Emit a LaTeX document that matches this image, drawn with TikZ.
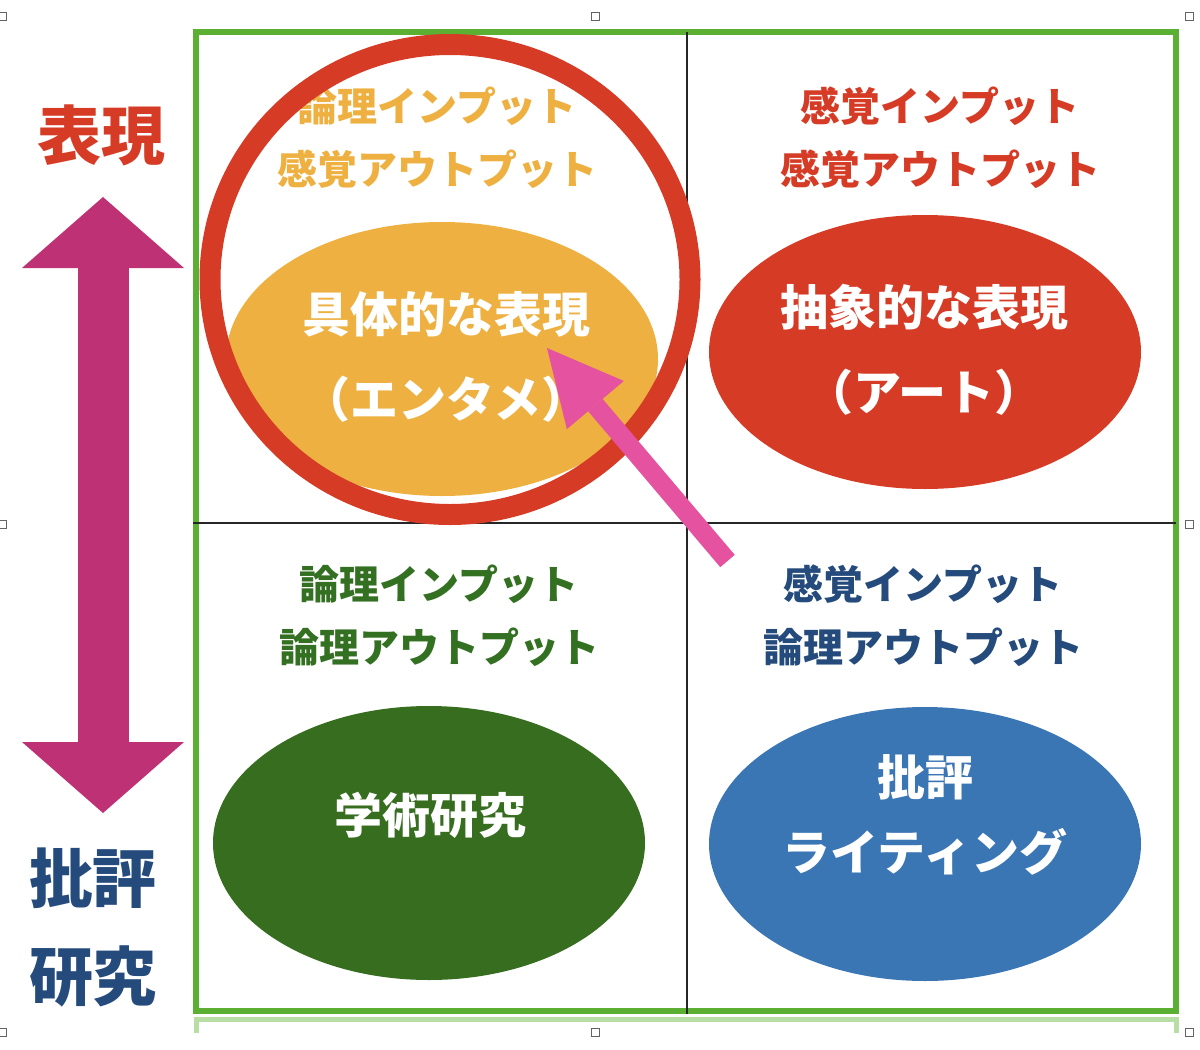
\documentclass[tikz,border=0pt]{standalone}
\usepackage{fontspec}
\newfontfamily\jpfont{Noto Sans CJK JP}
\usepackage{tikz}
\usetikzlibrary{arrows.meta}
\usetikzlibrary{shapes.geometric}
\definecolor{framegreen}{RGB}{91,175,50}
\definecolor{bracketgreen}{RGB}{185,222,165}
\definecolor{ringred}{RGB}{214,59,38}
\definecolor{entorange}{RGB}{238,176,64}
\definecolor{artred}{RGB}{214,59,38}
\definecolor{acadgreen}{RGB}{54,109,31}
\definecolor{labelgreen}{RGB}{52,112,34}
\definecolor{critblue}{RGB}{58,117,180}
\definecolor{navy}{RGB}{36,75,124}
\definecolor{axismagenta}{RGB}{190,50,117}
\definecolor{pointpink}{RGB}{228,82,160}
\definecolor{handlegray}{RGB}{100,100,100}
\tikzset{
    quadlabel/.style={
        font=\jpfont\bfseries\fontsize{20}{31.5}\selectfont,
        align=center,
        inner sep=0pt
    },
    bubble/.style={
        ellipse,
        minimum width=216pt,
        minimum height=137pt,
        inner sep=0pt
    },
    bubbletext/.style={
        font=\jpfont\bfseries\fontsize{24}{42.5}\selectfont,
        align=center,
        white,
        inner sep=0pt
    },
    sidelabel/.style={
        font=\jpfont\bfseries\fontsize{32}{49}\selectfont,
        align=center,
        inner sep=0pt
    },
    % 縦の両矢印と指し示す矢印
    axisarrow/.style={
        line width=25.5pt,
        axismagenta,
        <->,
        >={Triangle[length=35.5pt, width=81pt, line width=0pt]}
    },
    pointarrow/.style={
        line width=9.5pt,
        pointpink,
        ->,
        >={Triangle[length=37.4pt, width=37.3pt, line width=0pt]}
    },
    divider/.style={line width=1.4pt, black!85},
    selhandle/.style={
        rectangle,
        draw=handlegray,
        fill=white,
        line width=0.5pt,
        minimum size=4pt,
        inner sep=0pt
    }
}

\begin{document}
\begin{tikzpicture}[x=0.5pt, y=-0.5pt]
	\useasboundingbox (0,0) rectangle (1200,1050);
	\foreach \hx/\hy in {2/16, 595/16, 1189/16, 2/524, 1189/524, 2/1032, 595/1032, 1189/1032}
		\node[selhandle] (handle\hx-\hy) at (\hx,\hy) {};

	\draw[framegreen, line width=3pt] (196,32) rectangle (1176,1011);
	\draw[bracketgreen, line width=2.5pt] (196,1033) -- (196,1019) -- (1176,1019) -- (1176,1033);
	\draw[divider] (687,32) -- (687,1014);
	\draw[divider] (193,523) -- (1176,523);

	\node[bubble, fill=entorange] (ent) at (442,359) {};
	\node[bubble, fill=artred] (art) at (925,352) {};
	\node[bubble, fill=acadgreen] (acad) at (429,843) {};
	\node[bubble, fill=critblue] (crit) at (925,844) {};

	\node[quadlabel, entorange] (entio) at (437,138) {論理インプット\\感覚アウトプット};
	\node[quadlabel, artred] (artio) at (940,138) {感覚インプット\\感覚アウトプット};
	\node[quadlabel, labelgreen] (acadio) at (439,616) {論理インプット\\論理アウトプット};
	\node[quadlabel, navy] (critio) at (923,616) {感覚インプット\\論理アウトプット};

	\node[ellipse, draw=ringred, line width=10.5pt, minimum width=240pt, minimum height=235pt, inner sep=0pt] (focus) at (450,279.5) {};

	\node[bubbletext] (enttext) at (446,357) {具体的な表現\\（エンタメ）};
	\node[bubbletext] (arttext) at (924,350) {抽象的な表現\\（アート）};
	\node[bubbletext] (acadtext) at (430,815) {学術研究};
	\node[bubbletext] (crittext) at (925,815) {批評\\[-5pt]ライティング};

	\node[sidelabel, artred] (hyougen) at (102,135) {表現};
	\node[sidelabel, navy] (hihyou) at (93,927) {批評\\研究};

	\coordinate (axistop) at (103,197);
	\coordinate (axisbottom) at (103,813);
	\draw[axisarrow] (axistop) -- (axisbottom);

	\coordinate (pointtail) at (727.5,561);
	\coordinate (pointtip) at (547,348);
	\draw[pointarrow] (pointtail) -- (pointtip);
\end{tikzpicture}
\end{document}
